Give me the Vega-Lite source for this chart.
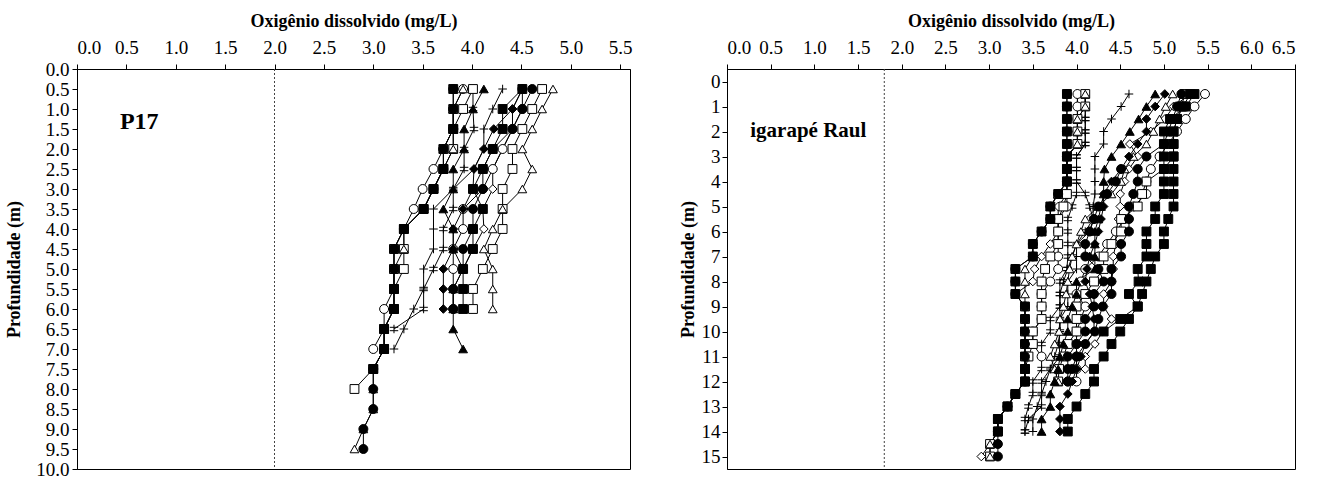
{
"$schema":"https://vega.github.io/schema/vega-lite/v6.json",
"padding":{"left":5,"top":11,"right":0,"bottom":0},
"spacing":45,
"config":{"font":"Liberation Serif, Times New Roman, serif","view":{"stroke":"black","strokeWidth":1},
"text":{"font":"Liberation Serif, Times New Roman, serif"},
"axis":{"grid":false,"labelOverlap":false,"labelBound":false,"domainColor":"black","tickColor":"black","labelColor":"black","titleColor":"black","labelFont":"Liberation Serif, Times New Roman, serif","titleFont":"Liberation Serif, Times New Roman, serif","labelFontSize":19,"titleFontSize":18,"titleFontWeight":"bold","tickSize":5}},
"datasets":{
"p17":[
{"s":"L2","m":"fs","d":0.5,"o":3.81},{"s":"L2","m":"fs","d":1,"o":3.81},{"s":"L2","m":"fs","d":2,"o":3.71},{"s":"L2","m":"fs","d":4.5,"o":3.21},{"s":"L2","m":"fs","d":5,"o":3.21},
{"s":"L9","m":"plus","d":0.5,"o":4.31},{"s":"L9","m":"plus","d":1,"o":4.21},{"s":"L9","m":"plus","d":1.5,"o":4.12},{"s":"L9","m":"plus","d":2,"o":4.12},{"s":"L9","m":"plus","d":2.5,"o":4.02},{"s":"L9","m":"plus","d":3,"o":3.81},{"s":"L9","m":"plus","d":3.5,"o":3.61},{"s":"L9","m":"plus","d":4,"o":3.61},{"s":"L9","m":"plus","d":4.5,"o":3.61},{"s":"L9","m":"plus","d":5,"o":3.51},{"s":"L9","m":"plus","d":5.5,"o":3.51},{"s":"L9","m":"plus","d":6,"o":3.41},{"s":"L9","m":"plus","d":6.5,"o":3.31},{"s":"L9","m":"plus","d":7,"o":3.21},
{"s":"L8","m":"dag","d":0.5,"o":4.01},{"s":"L8","m":"dag","d":1,"o":4.01},{"s":"L8","m":"dag","d":1.5,"o":4.02},{"s":"L8","m":"dag","d":2,"o":3.92},{"s":"L8","m":"dag","d":2.5,"o":3.92},{"s":"L8","m":"dag","d":3,"o":3.81},{"s":"L8","m":"dag","d":3.5,"o":3.81},{"s":"L8","m":"dag","d":4,"o":3.71},{"s":"L8","m":"dag","d":4.5,"o":3.71},{"s":"L8","m":"dag","d":5,"o":3.61},{"s":"L8","m":"dag","d":5.5,"o":3.51},{"s":"L8","m":"dag","d":6,"o":3.51},{"s":"L8","m":"dag","d":6.5,"o":3.21},
{"s":"L13","m":"od","d":0.5,"o":4.51},{"s":"L13","m":"od","d":1,"o":4.41},{"s":"L13","m":"od","d":1.5,"o":4.41},{"s":"L13","m":"od","d":2,"o":4.31},{"s":"L13","m":"od","d":2.5,"o":4.21},{"s":"L13","m":"od","d":3,"o":4.21},{"s":"L13","m":"od","d":3.5,"o":4.11},{"s":"L13","m":"od","d":4,"o":4.12},{"s":"L13","m":"od","d":4.5,"o":4.01},{"s":"L13","m":"od","d":5,"o":3.91},
{"s":"L14","m":"oc","d":0.5,"o":3.91},{"s":"L14","m":"oc","d":1,"o":3.81},{"s":"L14","m":"oc","d":1.5,"o":3.81},{"s":"L14","m":"oc","d":2,"o":3.71},{"s":"L14","m":"oc","d":2.5,"o":3.61},{"s":"L14","m":"oc","d":3,"o":3.5},{"s":"L14","m":"oc","d":3.5,"o":3.41},{"s":"L14","m":"oc","d":4,"o":3.31},{"s":"L14","m":"oc","d":4.5,"o":3.21},{"s":"L14","m":"oc","d":5,"o":3.21},{"s":"L14","m":"oc","d":5.5,"o":3.21},{"s":"L14","m":"oc","d":6,"o":3.11},{"s":"L14","m":"oc","d":6.5,"o":3.11},{"s":"L14","m":"oc","d":7,"o":3.0},
{"s":"L15","m":"oc","d":0.5,"o":4.51},{"s":"L15","m":"oc","d":1,"o":4.51},{"s":"L15","m":"oc","d":1.5,"o":4.41},{"s":"L15","m":"oc","d":2,"o":4.31},{"s":"L15","m":"oc","d":2.5,"o":4.21},{"s":"L15","m":"oc","d":3,"o":4.11},{"s":"L15","m":"oc","d":3.5,"o":3.91},{"s":"L15","m":"oc","d":4,"o":3.91},{"s":"L15","m":"oc","d":4.5,"o":3.81},{"s":"L15","m":"oc","d":5,"o":3.81},{"s":"L15","m":"oc","d":5.5,"o":3.81},{"s":"L15","m":"oc","d":6,"o":3.81},
{"s":"L3","m":"os","d":0.5,"o":4.01},{"s":"L3","m":"os","d":1,"o":3.91},{"s":"L3","m":"os","d":1.5,"o":3.81},{"s":"L3","m":"os","d":2,"o":3.81},{"s":"L3","m":"os","d":2.5,"o":3.71},{"s":"L3","m":"os","d":3,"o":3.61},{"s":"L3","m":"os","d":3.5,"o":3.51},{"s":"L3","m":"os","d":4,"o":3.31},{"s":"L3","m":"os","d":4.5,"o":3.31},{"s":"L3","m":"os","d":5,"o":3.31},{"s":"L3","m":"os","d":5.5,"o":3.21},{"s":"L3","m":"os","d":6,"o":3.21},{"s":"L3","m":"os","d":6.5,"o":3.11},{"s":"L3","m":"os","d":7,"o":3.11},{"s":"L3","m":"os","d":7.5,"o":3.0},{"s":"L3","m":"os","d":8,"o":2.81},
{"s":"L4","m":"os","d":0.5,"o":4.71},{"s":"L4","m":"os","d":1,"o":4.61},{"s":"L4","m":"os","d":1.5,"o":4.51},{"s":"L4","m":"os","d":2,"o":4.41},{"s":"L4","m":"os","d":2.5,"o":4.41},{"s":"L4","m":"os","d":3,"o":4.31},{"s":"L4","m":"os","d":3.5,"o":4.31},{"s":"L4","m":"os","d":4,"o":4.31},{"s":"L4","m":"os","d":4.5,"o":4.21},{"s":"L4","m":"os","d":5,"o":4.11},{"s":"L4","m":"os","d":5.5,"o":4.01},{"s":"L4","m":"os","d":6,"o":4.01},
{"s":"L6","m":"ot","d":0.5,"o":3.91},{"s":"L6","m":"ot","d":1,"o":3.81},{"s":"L6","m":"ot","d":1.5,"o":3.81},{"s":"L6","m":"ot","d":2,"o":3.81},{"s":"L6","m":"ot","d":2.5,"o":3.71},{"s":"L6","m":"ot","d":3,"o":3.61},{"s":"L6","m":"ot","d":3.5,"o":3.51},{"s":"L6","m":"ot","d":4,"o":3.31},{"s":"L6","m":"ot","d":4.5,"o":3.31},{"s":"L6","m":"ot","d":5,"o":3.21},{"s":"L6","m":"ot","d":5.5,"o":3.21},{"s":"L6","m":"ot","d":6,"o":3.21},{"s":"L6","m":"ot","d":6.5,"o":3.11},{"s":"L6","m":"ot","d":7,"o":3.11},{"s":"L6","m":"ot","d":7.5,"o":3.0},{"s":"L6","m":"ot","d":8,"o":3.0},{"s":"L6","m":"ot","d":8.5,"o":3.0},{"s":"L6","m":"ot","d":9,"o":2.9},{"s":"L6","m":"ot","d":9.5,"o":2.81},
{"s":"L5","m":"ot","d":0.5,"o":4.82},{"s":"L5","m":"ot","d":1,"o":4.71},{"s":"L5","m":"ot","d":1.5,"o":4.61},{"s":"L5","m":"ot","d":2,"o":4.51},{"s":"L5","m":"ot","d":2.5,"o":4.61},{"s":"L5","m":"ot","d":3,"o":4.51},{"s":"L5","m":"ot","d":3.5,"o":4.31},{"s":"L5","m":"ot","d":4,"o":4.21},{"s":"L5","m":"ot","d":4.5,"o":4.12},{"s":"L5","m":"ot","d":5,"o":4.21},{"s":"L5","m":"ot","d":5.5,"o":4.21},{"s":"L5","m":"ot","d":6,"o":4.21},
{"s":"L12","m":"fd","d":0.5,"o":4.51},{"s":"L12","m":"fd","d":1,"o":4.41},{"s":"L12","m":"fd","d":1.5,"o":4.22},{"s":"L12","m":"fd","d":2,"o":4.12},{"s":"L12","m":"fd","d":2.5,"o":4.02},{"s":"L12","m":"fd","d":3,"o":4.01},{"s":"L12","m":"fd","d":3.5,"o":3.91},{"s":"L12","m":"fd","d":4,"o":3.81},{"s":"L12","m":"fd","d":4.5,"o":3.81},{"s":"L12","m":"fd","d":5,"o":3.71},{"s":"L12","m":"fd","d":5.5,"o":3.71},{"s":"L12","m":"fd","d":6,"o":3.71},
{"s":"L7","m":"ft","d":0.5,"o":4.12},{"s":"L7","m":"ft","d":1,"o":4.01},{"s":"L7","m":"ft","d":1.5,"o":3.92},{"s":"L7","m":"ft","d":2,"o":3.92},{"s":"L7","m":"ft","d":2.5,"o":3.81},{"s":"L7","m":"ft","d":3,"o":3.81},{"s":"L7","m":"ft","d":3.5,"o":3.71},{"s":"L7","m":"ft","d":4,"o":3.81},{"s":"L7","m":"ft","d":4.5,"o":3.81},{"s":"L7","m":"ft","d":5,"o":3.91},{"s":"L7","m":"ft","d":5.5,"o":3.81},{"s":"L7","m":"ft","d":6,"o":3.81},{"s":"L7","m":"ft","d":6.5,"o":3.81},{"s":"L7","m":"ft","d":7,"o":3.91},
{"s":"L11","m":"fc","d":0.5,"o":4.61},{"s":"L11","m":"fc","d":1,"o":4.51},{"s":"L11","m":"fc","d":1.5,"o":4.41},{"s":"L11","m":"fc","d":2,"o":4.21},{"s":"L11","m":"fc","d":2.5,"o":4.11},{"s":"L11","m":"fc","d":3,"o":4.11},{"s":"L11","m":"fc","d":3.5,"o":4.01},{"s":"L11","m":"fc","d":4,"o":4.01},{"s":"L11","m":"fc","d":4.5,"o":3.91},{"s":"L11","m":"fc","d":5,"o":3.91},{"s":"L11","m":"fc","d":5.5,"o":3.81},{"s":"L11","m":"fc","d":6,"o":3.81},
{"s":"L10","m":"fs","d":0.5,"o":4.51},{"s":"L10","m":"fs","d":1,"o":4.31},{"s":"L10","m":"fs","d":1.5,"o":4.31},{"s":"L10","m":"fs","d":2,"o":4.21},{"s":"L10","m":"fs","d":2.5,"o":4.11},{"s":"L10","m":"fs","d":3,"o":4.01},{"s":"L10","m":"fs","d":3.5,"o":4.11},{"s":"L10","m":"fs","d":4,"o":4.01},{"s":"L10","m":"fs","d":4.5,"o":4.01},{"s":"L10","m":"fs","d":5,"o":3.91},{"s":"L10","m":"fs","d":5.5,"o":3.91},{"s":"L10","m":"fs","d":6,"o":3.91},
{"s":"L1","m":"fc","d":0.5,"o":3.81},{"s":"L1","m":"fc","d":1,"o":3.81},{"s":"L1","m":"fc","d":1.5,"o":3.81},{"s":"L1","m":"fc","d":2,"o":3.71},{"s":"L1","m":"fc","d":2.5,"o":3.71},{"s":"L1","m":"fc","d":3,"o":3.61},{"s":"L1","m":"fc","d":3.5,"o":3.51},{"s":"L1","m":"fc","d":4,"o":3.31},{"s":"L1","m":"fc","d":4.5,"o":3.21},{"s":"L1","m":"fc","d":5,"o":3.21},{"s":"L1","m":"fc","d":5.5,"o":3.21},{"s":"L1","m":"fc","d":6,"o":3.21},{"s":"L1","m":"fc","d":6.5,"o":3.11},{"s":"L1","m":"fc","d":7,"o":3.11},{"s":"L1","m":"fc","d":7.5,"o":3.0},{"s":"L1","m":"fc","d":8,"o":3.0},{"s":"L1","m":"fc","d":8.5,"o":3.0},{"s":"L1","m":"fc","d":9,"o":2.9},{"s":"L1","m":"fc","d":9.5,"o":2.9},
{"s":"L2","m":"fs","d":1.5,"o":3.81},{"s":"L2","m":"fs","d":2.5,"o":3.71},{"s":"L2","m":"fs","d":3,"o":3.61},{"s":"L2","m":"fs","d":3.5,"o":3.51},{"s":"L2","m":"fs","d":4,"o":3.31},{"s":"L2","m":"fs","d":5.5,"o":3.21},{"s":"L2","m":"fs","d":6,"o":3.21},{"s":"L2","m":"fs","d":6.5,"o":3.11},{"s":"L2","m":"fs","d":7,"o":3.11},{"s":"L2","m":"fs","d":7.5,"o":3.0}
],
"raul":[
{"s":"R2","m":"fs","d":0.5,"o":3.89},{"s":"R2","m":"fs","d":1,"o":3.89},{"s":"R2","m":"fs","d":1.5,"o":3.89},{"s":"R2","m":"fs","d":2,"o":3.89},{"s":"R2","m":"fs","d":2.5,"o":3.89},{"s":"R2","m":"fs","d":4.5,"o":3.79},{"s":"R2","m":"fs","d":7.5,"o":3.3},{"s":"R2","m":"fs","d":8,"o":3.3},{"s":"R2","m":"fs","d":8.5,"o":3.3},{"s":"R2","m":"fs","d":9,"o":3.41},{"s":"R2","m":"fs","d":9.5,"o":3.41},{"s":"R2","m":"fs","d":10,"o":3.41},{"s":"R2","m":"fs","d":10.5,"o":3.41},{"s":"R2","m":"fs","d":11,"o":3.41},
{"s":"R7","m":"dag","d":0.5,"o":4.1},{"s":"R7","m":"dag","d":1,"o":4.1},{"s":"R7","m":"dag","d":1.5,"o":4.1},{"s":"R7","m":"dag","d":2,"o":4.1},{"s":"R7","m":"dag","d":2.5,"o":4.1},{"s":"R7","m":"dag","d":3,"o":4.0},{"s":"R7","m":"dag","d":3.5,"o":4.0},{"s":"R7","m":"dag","d":4,"o":4.0},{"s":"R7","m":"dag","d":4.5,"o":4.0},{"s":"R7","m":"dag","d":5,"o":3.95},{"s":"R7","m":"dag","d":5.5,"o":3.9},{"s":"R7","m":"dag","d":6,"o":3.9},{"s":"R7","m":"dag","d":6.5,"o":3.9},{"s":"R7","m":"dag","d":7,"o":3.9},{"s":"R7","m":"dag","d":7.5,"o":3.89},{"s":"R7","m":"dag","d":8,"o":3.81},{"s":"R7","m":"dag","d":8.5,"o":3.81},{"s":"R7","m":"dag","d":9,"o":3.81},{"s":"R7","m":"dag","d":9.5,"o":3.7},{"s":"R7","m":"dag","d":10,"o":3.7},{"s":"R7","m":"dag","d":10.5,"o":3.6},{"s":"R7","m":"dag","d":11,"o":3.6},{"s":"R7","m":"dag","d":11.5,"o":3.6},{"s":"R7","m":"dag","d":12,"o":3.5},{"s":"R7","m":"dag","d":12.5,"o":3.5},{"s":"R7","m":"dag","d":13,"o":3.45},{"s":"R7","m":"dag","d":13.5,"o":3.41},{"s":"R7","m":"dag","d":14,"o":3.41},
{"s":"R9","m":"dag","d":0.5,"o":4.1},{"s":"R9","m":"dag","d":1,"o":4.1},{"s":"R9","m":"dag","d":1.5,"o":4.1},{"s":"R9","m":"dag","d":2,"o":4.1},{"s":"R9","m":"dag","d":2.5,"o":4.1},{"s":"R9","m":"dag","d":3,"o":4.0},{"s":"R9","m":"dag","d":3.5,"o":4.0},{"s":"R9","m":"dag","d":4,"o":4.0},{"s":"R9","m":"dag","d":4.5,"o":4.1},{"s":"R9","m":"dag","d":5,"o":4.15},{"s":"R9","m":"dag","d":5.5,"o":4.19},{"s":"R9","m":"dag","d":6,"o":4.1},{"s":"R9","m":"dag","d":6.5,"o":4.0},{"s":"R9","m":"dag","d":7,"o":3.95},{"s":"R9","m":"dag","d":7.5,"o":3.9},{"s":"R9","m":"dag","d":8,"o":3.85},{"s":"R9","m":"dag","d":8.5,"o":3.81},{"s":"R9","m":"dag","d":9,"o":3.81},{"s":"R9","m":"dag","d":9.5,"o":3.81},{"s":"R9","m":"dag","d":10,"o":3.81},{"s":"R9","m":"dag","d":10.5,"o":3.8},{"s":"R9","m":"dag","d":11,"o":3.81},{"s":"R9","m":"dag","d":11.5,"o":3.7},{"s":"R9","m":"dag","d":12,"o":3.6},{"s":"R9","m":"dag","d":12.5,"o":3.6},{"s":"R9","m":"dag","d":13,"o":3.6},{"s":"R9","m":"dag","d":13.5,"o":3.45},{"s":"R9","m":"dag","d":14,"o":3.41},
{"s":"R8","m":"plus","d":0.5,"o":4.6},{"s":"R8","m":"plus","d":1,"o":4.51},{"s":"R8","m":"plus","d":1.5,"o":4.4},{"s":"R8","m":"plus","d":2,"o":4.31},{"s":"R8","m":"plus","d":2.5,"o":4.31},{"s":"R8","m":"plus","d":3,"o":4.21},{"s":"R8","m":"plus","d":3.5,"o":4.21},{"s":"R8","m":"plus","d":4,"o":4.21},{"s":"R8","m":"plus","d":4.5,"o":4.21},{"s":"R8","m":"plus","d":5,"o":4.19},{"s":"R8","m":"plus","d":5.5,"o":4.19},{"s":"R8","m":"plus","d":6,"o":4.15},{"s":"R8","m":"plus","d":6.5,"o":4.0},{"s":"R8","m":"plus","d":7,"o":4.0},{"s":"R8","m":"plus","d":7.5,"o":4.0},{"s":"R8","m":"plus","d":8,"o":3.9},{"s":"R8","m":"plus","d":8.5,"o":3.9},{"s":"R8","m":"plus","d":9,"o":3.9},{"s":"R8","m":"plus","d":9.5,"o":3.81},{"s":"R8","m":"plus","d":10,"o":3.81},{"s":"R8","m":"plus","d":10.5,"o":3.79},{"s":"R8","m":"plus","d":11,"o":3.75},{"s":"R8","m":"plus","d":11.5,"o":3.7},{"s":"R8","m":"plus","d":12,"o":3.65},{"s":"R8","m":"plus","d":12.5,"o":3.6},{"s":"R8","m":"plus","d":13,"o":3.55},{"s":"R8","m":"plus","d":13.5,"o":3.5},{"s":"R8","m":"plus","d":14,"o":3.5},
{"s":"R6","m":"od","d":0.5,"o":4.01},{"s":"R6","m":"od","d":1,"o":4.01},{"s":"R6","m":"od","d":1.5,"o":4.01},{"s":"R6","m":"od","d":2,"o":4.01},{"s":"R6","m":"od","d":2.5,"o":4.01},{"s":"R6","m":"od","d":3,"o":3.89},{"s":"R6","m":"od","d":3.5,"o":3.89},{"s":"R6","m":"od","d":4,"o":3.89},{"s":"R6","m":"od","d":4.5,"o":3.89},{"s":"R6","m":"od","d":5,"o":3.79},{"s":"R6","m":"od","d":5.5,"o":3.79},{"s":"R6","m":"od","d":6,"o":3.79},{"s":"R6","m":"od","d":6.5,"o":3.7},{"s":"R6","m":"od","d":7,"o":3.6},{"s":"R6","m":"od","d":7.5,"o":3.52},{"s":"R6","m":"od","d":8,"o":3.5},{"s":"R6","m":"od","d":8.5,"o":3.3},{"s":"R6","m":"od","d":9,"o":3.41},{"s":"R6","m":"od","d":9.5,"o":3.41},{"s":"R6","m":"od","d":10,"o":3.41},{"s":"R6","m":"od","d":10.5,"o":3.41},{"s":"R6","m":"od","d":11,"o":3.41},{"s":"R6","m":"od","d":11.5,"o":3.41},{"s":"R6","m":"od","d":12,"o":3.41},{"s":"R6","m":"od","d":12.5,"o":3.3},{"s":"R6","m":"od","d":13,"o":3.21},{"s":"R6","m":"od","d":13.5,"o":3.1},{"s":"R6","m":"od","d":14,"o":3.1},{"s":"R6","m":"od","d":14.5,"o":3.01},{"s":"R6","m":"od","d":15,"o":2.91},
{"s":"R17","m":"od","d":0.5,"o":5.3},{"s":"R17","m":"od","d":1,"o":5.11},{"s":"R17","m":"od","d":1.5,"o":5.01},{"s":"R17","m":"od","d":2,"o":4.85},{"s":"R17","m":"od","d":2.5,"o":4.61},{"s":"R17","m":"od","d":3,"o":4.7},{"s":"R17","m":"od","d":3.5,"o":4.6},{"s":"R17","m":"od","d":4,"o":4.55},{"s":"R17","m":"od","d":4.5,"o":4.5},{"s":"R17","m":"od","d":5,"o":4.5},{"s":"R17","m":"od","d":5.5,"o":4.48},{"s":"R17","m":"od","d":6,"o":4.45},{"s":"R17","m":"od","d":6.5,"o":4.45},{"s":"R17","m":"od","d":7,"o":4.42},{"s":"R17","m":"od","d":7.5,"o":4.42},{"s":"R17","m":"od","d":8,"o":4.4},{"s":"R17","m":"od","d":8.5,"o":4.31},{"s":"R17","m":"od","d":9,"o":4.31},{"s":"R17","m":"od","d":9.5,"o":4.4},{"s":"R17","m":"od","d":10,"o":4.3},{"s":"R17","m":"od","d":10.5,"o":4.21},{"s":"R17","m":"od","d":11,"o":4.1},{"s":"R17","m":"od","d":11.5,"o":4.1},
{"s":"R3","m":"oc","d":0.5,"o":4.01},{"s":"R3","m":"oc","d":1,"o":4.01},{"s":"R3","m":"oc","d":1.5,"o":4.01},{"s":"R3","m":"oc","d":2,"o":4.01},{"s":"R3","m":"oc","d":2.5,"o":4.01},{"s":"R3","m":"oc","d":3,"o":3.89},{"s":"R3","m":"oc","d":3.5,"o":3.89},{"s":"R3","m":"oc","d":4,"o":3.89},{"s":"R3","m":"oc","d":4.5,"o":3.89},{"s":"R3","m":"oc","d":5,"o":3.89},{"s":"R3","m":"oc","d":5.5,"o":3.79},{"s":"R3","m":"oc","d":6,"o":3.79},{"s":"R3","m":"oc","d":6.5,"o":3.79},{"s":"R3","m":"oc","d":7,"o":3.79},{"s":"R3","m":"oc","d":7.5,"o":3.79},{"s":"R3","m":"oc","d":8,"o":3.7},{"s":"R3","m":"oc","d":8.5,"o":3.6},{"s":"R3","m":"oc","d":9,"o":3.6},{"s":"R3","m":"oc","d":9.5,"o":3.6},{"s":"R3","m":"oc","d":10,"o":3.5},{"s":"R3","m":"oc","d":10.5,"o":3.5},{"s":"R3","m":"oc","d":11,"o":3.6},
{"s":"R16","m":"oc","d":0.5,"o":5.47},{"s":"R16","m":"oc","d":1,"o":5.35},{"s":"R16","m":"oc","d":1.5,"o":5.25},{"s":"R16","m":"oc","d":2,"o":5.15},{"s":"R16","m":"oc","d":2.5,"o":5.05},{"s":"R16","m":"oc","d":3,"o":4.95},{"s":"R16","m":"oc","d":3.5,"o":4.85},{"s":"R16","m":"oc","d":4,"o":4.8},{"s":"R16","m":"oc","d":4.5,"o":4.8},{"s":"R16","m":"oc","d":5,"o":4.65},{"s":"R16","m":"oc","d":5.5,"o":4.55},{"s":"R16","m":"oc","d":6,"o":4.45},{"s":"R16","m":"oc","d":6.5,"o":4.35},{"s":"R16","m":"oc","d":7,"o":4.25},{"s":"R16","m":"oc","d":7.5,"o":4.1},{"s":"R16","m":"oc","d":8,"o":4.05},{"s":"R16","m":"oc","d":8.5,"o":4.0},{"s":"R16","m":"oc","d":9,"o":4.1},{"s":"R16","m":"oc","d":9.5,"o":4.05},{"s":"R16","m":"oc","d":10,"o":4.0},{"s":"R16","m":"oc","d":10.5,"o":4.0},{"s":"R16","m":"oc","d":11,"o":4.0},{"s":"R16","m":"oc","d":11.5,"o":4.0},{"s":"R16","m":"oc","d":12,"o":4.0},
{"s":"R4","m":"os","d":0.5,"o":4.1},{"s":"R4","m":"os","d":1,"o":4.1},{"s":"R4","m":"os","d":1.5,"o":4.01},{"s":"R4","m":"os","d":2,"o":4.01},{"s":"R4","m":"os","d":2.5,"o":4.01},{"s":"R4","m":"os","d":3,"o":3.89},{"s":"R4","m":"os","d":3.5,"o":3.89},{"s":"R4","m":"os","d":4,"o":3.89},{"s":"R4","m":"os","d":4.5,"o":3.89},{"s":"R4","m":"os","d":5,"o":3.85},{"s":"R4","m":"os","d":5.5,"o":3.79},{"s":"R4","m":"os","d":6,"o":3.79},{"s":"R4","m":"os","d":6.5,"o":3.79},{"s":"R4","m":"os","d":7,"o":3.7},{"s":"R4","m":"os","d":7.5,"o":3.64},{"s":"R4","m":"os","d":8,"o":3.6},{"s":"R4","m":"os","d":8.5,"o":3.6},{"s":"R4","m":"os","d":9,"o":3.6},{"s":"R4","m":"os","d":9.5,"o":3.6},{"s":"R4","m":"os","d":10,"o":3.5},{"s":"R4","m":"os","d":10.5,"o":3.5},{"s":"R4","m":"os","d":11,"o":3.45},{"s":"R4","m":"os","d":11.5,"o":3.41},{"s":"R4","m":"os","d":12,"o":3.41},{"s":"R4","m":"os","d":12.5,"o":3.3},{"s":"R4","m":"os","d":13,"o":3.21},{"s":"R4","m":"os","d":13.5,"o":3.1},{"s":"R4","m":"os","d":14,"o":3.1},{"s":"R4","m":"os","d":14.5,"o":3.01},{"s":"R4","m":"os","d":15,"o":3.01},
{"s":"R15","m":"os","d":0.5,"o":5.24},{"s":"R15","m":"os","d":1,"o":5.2},{"s":"R15","m":"os","d":1.5,"o":5.15},{"s":"R15","m":"os","d":2,"o":5.11},{"s":"R15","m":"os","d":2.5,"o":5.11},{"s":"R15","m":"os","d":3,"o":5.11},{"s":"R15","m":"os","d":3.5,"o":5.0},{"s":"R15","m":"os","d":4,"o":4.8},{"s":"R15","m":"os","d":4.5,"o":4.75},{"s":"R15","m":"os","d":5,"o":4.7},{"s":"R15","m":"os","d":5.5,"o":4.51},{"s":"R15","m":"os","d":6,"o":4.51},{"s":"R15","m":"os","d":6.5,"o":4.4},{"s":"R15","m":"os","d":7,"o":4.31},{"s":"R15","m":"os","d":7.5,"o":4.31},{"s":"R15","m":"os","d":8,"o":4.2},{"s":"R15","m":"os","d":8.5,"o":4.1},{"s":"R15","m":"os","d":9,"o":4.0},{"s":"R15","m":"os","d":9.5,"o":4.0},{"s":"R15","m":"os","d":10,"o":4.0},{"s":"R15","m":"os","d":10.5,"o":3.9},{"s":"R15","m":"os","d":11,"o":3.85},{"s":"R15","m":"os","d":11.5,"o":3.8},{"s":"R15","m":"os","d":12,"o":3.79},
{"s":"R5","m":"ot","d":0.5,"o":4.1},{"s":"R5","m":"ot","d":1,"o":4.1},{"s":"R5","m":"ot","d":1.5,"o":4.01},{"s":"R5","m":"ot","d":2,"o":4.01},{"s":"R5","m":"ot","d":2.5,"o":4.01},{"s":"R5","m":"ot","d":3,"o":3.89},{"s":"R5","m":"ot","d":3.5,"o":3.89},{"s":"R5","m":"ot","d":4,"o":3.89},{"s":"R5","m":"ot","d":4.5,"o":3.79},{"s":"R5","m":"ot","d":5,"o":3.7},{"s":"R5","m":"ot","d":5.5,"o":3.7},{"s":"R5","m":"ot","d":6,"o":3.6},{"s":"R5","m":"ot","d":6.5,"o":3.5},{"s":"R5","m":"ot","d":7,"o":3.5},{"s":"R5","m":"ot","d":7.5,"o":3.41},{"s":"R5","m":"ot","d":8,"o":3.41},{"s":"R5","m":"ot","d":8.5,"o":3.41},{"s":"R5","m":"ot","d":9,"o":3.41},{"s":"R5","m":"ot","d":9.5,"o":3.41},{"s":"R5","m":"ot","d":10,"o":3.41},{"s":"R5","m":"ot","d":10.5,"o":3.41},{"s":"R5","m":"ot","d":11,"o":3.41},{"s":"R5","m":"ot","d":11.5,"o":3.41},{"s":"R5","m":"ot","d":12,"o":3.41},{"s":"R5","m":"ot","d":12.5,"o":3.3},{"s":"R5","m":"ot","d":13,"o":3.21},{"s":"R5","m":"ot","d":13.5,"o":3.1},{"s":"R5","m":"ot","d":14,"o":3.1},{"s":"R5","m":"ot","d":14.5,"o":3.01},{"s":"R5","m":"ot","d":15,"o":3.01},
{"s":"R12","m":"ot","d":0.5,"o":5.1},{"s":"R12","m":"ot","d":1,"o":5.02},{"s":"R12","m":"ot","d":1.5,"o":4.95},{"s":"R12","m":"ot","d":2,"o":4.88},{"s":"R12","m":"ot","d":2.5,"o":4.8},{"s":"R12","m":"ot","d":3,"o":4.65},{"s":"R12","m":"ot","d":3.5,"o":4.55},{"s":"R12","m":"ot","d":4,"o":4.51},{"s":"R12","m":"ot","d":4.5,"o":4.4},{"s":"R12","m":"ot","d":5,"o":4.25},{"s":"R12","m":"ot","d":5.5,"o":4.1},{"s":"R12","m":"ot","d":6,"o":4.05},{"s":"R12","m":"ot","d":6.5,"o":4.0},{"s":"R12","m":"ot","d":7,"o":3.95},{"s":"R12","m":"ot","d":7.5,"o":3.92},{"s":"R12","m":"ot","d":8,"o":3.9},{"s":"R12","m":"ot","d":8.5,"o":3.88},{"s":"R12","m":"ot","d":9,"o":3.85},{"s":"R12","m":"ot","d":9.5,"o":3.81},{"s":"R12","m":"ot","d":10,"o":3.8},{"s":"R12","m":"ot","d":10.5,"o":3.75},{"s":"R12","m":"ot","d":11,"o":3.7},{"s":"R12","m":"ot","d":11.5,"o":3.75},{"s":"R12","m":"ot","d":12,"o":3.79},
{"s":"R11","m":"fd","d":0.5,"o":5.01},{"s":"R11","m":"fd","d":1,"o":4.9},{"s":"R11","m":"fd","d":1.5,"o":4.8},{"s":"R11","m":"fd","d":2,"o":4.8},{"s":"R11","m":"fd","d":2.5,"o":4.7},{"s":"R11","m":"fd","d":3,"o":4.6},{"s":"R11","m":"fd","d":3.5,"o":4.51},{"s":"R11","m":"fd","d":4,"o":4.4},{"s":"R11","m":"fd","d":4.5,"o":4.31},{"s":"R11","m":"fd","d":5,"o":4.31},{"s":"R11","m":"fd","d":5.5,"o":4.28},{"s":"R11","m":"fd","d":6,"o":4.25},{"s":"R11","m":"fd","d":6.5,"o":4.21},{"s":"R11","m":"fd","d":7,"o":4.15},{"s":"R11","m":"fd","d":7.5,"o":4.12},{"s":"R11","m":"fd","d":8,"o":4.1},{"s":"R11","m":"fd","d":8.5,"o":4.15},{"s":"R11","m":"fd","d":9,"o":4.18},{"s":"R11","m":"fd","d":9.5,"o":4.2},{"s":"R11","m":"fd","d":10,"o":4.2},{"s":"R11","m":"fd","d":10.5,"o":4.1},{"s":"R11","m":"fd","d":11,"o":4.05},{"s":"R11","m":"fd","d":11.5,"o":4.0},{"s":"R11","m":"fd","d":12,"o":3.95},{"s":"R11","m":"fd","d":12.5,"o":3.9},{"s":"R11","m":"fd","d":13,"o":3.81},{"s":"R11","m":"fd","d":13.5,"o":3.81},{"s":"R11","m":"fd","d":14,"o":3.81},
{"s":"R10","m":"ft","d":0.5,"o":4.9},{"s":"R10","m":"ft","d":1,"o":4.8},{"s":"R10","m":"ft","d":1.5,"o":4.71},{"s":"R10","m":"ft","d":2,"o":4.61},{"s":"R10","m":"ft","d":2.5,"o":4.51},{"s":"R10","m":"ft","d":3,"o":4.4},{"s":"R10","m":"ft","d":3.5,"o":4.32},{"s":"R10","m":"ft","d":4,"o":4.31},{"s":"R10","m":"ft","d":4.5,"o":4.31},{"s":"R10","m":"ft","d":5,"o":4.28},{"s":"R10","m":"ft","d":5.5,"o":4.25},{"s":"R10","m":"ft","d":6,"o":4.21},{"s":"R10","m":"ft","d":6.5,"o":4.21},{"s":"R10","m":"ft","d":7,"o":4.21},{"s":"R10","m":"ft","d":7.5,"o":4.21},{"s":"R10","m":"ft","d":8,"o":4.0},{"s":"R10","m":"ft","d":8.5,"o":4.0},{"s":"R10","m":"ft","d":9,"o":3.95},{"s":"R10","m":"ft","d":9.5,"o":3.9},{"s":"R10","m":"ft","d":10,"o":3.9},{"s":"R10","m":"ft","d":10.5,"o":3.85},{"s":"R10","m":"ft","d":11,"o":3.81},{"s":"R10","m":"ft","d":11.5,"o":3.79},{"s":"R10","m":"ft","d":12,"o":3.75},{"s":"R10","m":"ft","d":12.5,"o":3.7},{"s":"R10","m":"ft","d":13,"o":3.7},{"s":"R10","m":"ft","d":13.5,"o":3.6},{"s":"R10","m":"ft","d":14,"o":3.6},
{"s":"R14","m":"fc","d":3.5,"o":4.51},{"s":"R14","m":"fc","d":4,"o":4.45},{"s":"R14","m":"fc","d":4.5,"o":4.35},{"s":"R14","m":"fc","d":5,"o":4.25},{"s":"R14","m":"fc","d":5.5,"o":4.2},{"s":"R14","m":"fc","d":6,"o":4.15},{"s":"R14","m":"fc","d":6.5,"o":4.1},{"s":"R14","m":"fc","d":7,"o":4.1},{"s":"R14","m":"fc","d":7.5,"o":4.25},{"s":"R14","m":"fc","d":8,"o":4.31},{"s":"R14","m":"fc","d":8.5,"o":4.2},{"s":"R14","m":"fc","d":9,"o":4.2},{"s":"R14","m":"fc","d":9.5,"o":4.1},{"s":"R14","m":"fc","d":10,"o":4.1},{"s":"R14","m":"fc","d":10.5,"o":4.0},{"s":"R14","m":"fc","d":11,"o":3.9},{"s":"R14","m":"fc","d":11.5,"o":3.9},{"s":"R14","m":"fc","d":12,"o":3.9},
{"s":"R13","m":"fc","d":0.5,"o":5.2},{"s":"R13","m":"fc","d":1,"o":5.15},{"s":"R13","m":"fc","d":1.5,"o":5.1},{"s":"R13","m":"fc","d":2,"o":5.05},{"s":"R13","m":"fc","d":2.5,"o":5.0},{"s":"R13","m":"fc","d":3,"o":4.8},{"s":"R13","m":"fc","d":3.5,"o":4.7},{"s":"R13","m":"fc","d":4,"o":4.7},{"s":"R13","m":"fc","d":4.5,"o":4.65},{"s":"R13","m":"fc","d":5,"o":4.6},{"s":"R13","m":"fc","d":5.5,"o":4.6},{"s":"R13","m":"fc","d":6,"o":4.6},{"s":"R13","m":"fc","d":6.5,"o":4.51},{"s":"R13","m":"fc","d":7,"o":4.51},{"s":"R13","m":"fc","d":7.5,"o":4.4},{"s":"R13","m":"fc","d":8,"o":4.4},{"s":"R13","m":"fc","d":8.5,"o":4.4},{"s":"R13","m":"fc","d":9,"o":4.3},{"s":"R13","m":"fc","d":9.5,"o":4.25},{"s":"R13","m":"fc","d":10,"o":4.21},{"s":"R13","m":"fc","d":10.5,"o":4.1},{"s":"R13","m":"fc","d":11,"o":4.0},{"s":"R13","m":"fc","d":11.5,"o":3.95},{"s":"R13","m":"fc","d":12,"o":3.9},
{"s":"R1","m":"fc","d":0.5,"o":3.89},{"s":"R1","m":"fc","d":1,"o":3.89},{"s":"R1","m":"fc","d":1.5,"o":3.89},{"s":"R1","m":"fc","d":2,"o":3.89},{"s":"R1","m":"fc","d":2.5,"o":3.89},{"s":"R1","m":"fc","d":3,"o":3.89},{"s":"R1","m":"fc","d":3.5,"o":3.89},{"s":"R1","m":"fc","d":4,"o":3.89},{"s":"R1","m":"fc","d":4.5,"o":3.79},{"s":"R1","m":"fc","d":5,"o":3.7},{"s":"R1","m":"fc","d":5.5,"o":3.7},{"s":"R1","m":"fc","d":6,"o":3.6},{"s":"R1","m":"fc","d":6.5,"o":3.5},{"s":"R1","m":"fc","d":7,"o":3.5},{"s":"R1","m":"fc","d":7.5,"o":3.3},{"s":"R1","m":"fc","d":8,"o":3.3},{"s":"R1","m":"fc","d":8.5,"o":3.3},{"s":"R1","m":"fc","d":9,"o":3.41},{"s":"R1","m":"fc","d":9.5,"o":3.41},{"s":"R1","m":"fc","d":10,"o":3.41},{"s":"R1","m":"fc","d":10.5,"o":3.41},{"s":"R1","m":"fc","d":11,"o":3.41},{"s":"R1","m":"fc","d":11.5,"o":3.41},{"s":"R1","m":"fc","d":12,"o":3.41},{"s":"R1","m":"fc","d":12.5,"o":3.3},{"s":"R1","m":"fc","d":13,"o":3.21},{"s":"R1","m":"fc","d":13.5,"o":3.1},{"s":"R1","m":"fc","d":14,"o":3.1},{"s":"R1","m":"fc","d":14.5,"o":3.1},{"s":"R1","m":"fc","d":15,"o":3.1},
{"s":"R18","m":"fs","d":0.5,"o":5.35},{"s":"R18","m":"fs","d":1,"o":5.25},{"s":"R18","m":"fs","d":1.5,"o":5.07},{"s":"R18","m":"fs","d":2,"o":5.0},{"s":"R18","m":"fs","d":2.5,"o":5.0},{"s":"R18","m":"fs","d":3,"o":5.0},{"s":"R18","m":"fs","d":3.5,"o":5.0},{"s":"R18","m":"fs","d":4,"o":5.0},{"s":"R18","m":"fs","d":4.5,"o":5.0},{"s":"R18","m":"fs","d":5,"o":4.9},{"s":"R18","m":"fs","d":5.5,"o":4.9},{"s":"R18","m":"fs","d":6,"o":4.8},{"s":"R18","m":"fs","d":6.5,"o":4.8},{"s":"R18","m":"fs","d":7,"o":4.8},{"s":"R18","m":"fs","d":7.5,"o":4.7},{"s":"R18","m":"fs","d":8,"o":4.71},{"s":"R18","m":"fs","d":8.5,"o":4.6},{"s":"R18","m":"fs","d":9,"o":4.7},{"s":"R18","m":"fs","d":9.5,"o":4.5},{"s":"R18","m":"fs","d":10,"o":4.31},
{"s":"R19","m":"fs","d":0.5,"o":5.3},{"s":"R19","m":"fs","d":1,"o":5.22},{"s":"R19","m":"fs","d":1.5,"o":5.15},{"s":"R19","m":"fs","d":2,"o":5.11},{"s":"R19","m":"fs","d":2.5,"o":5.11},{"s":"R19","m":"fs","d":3,"o":5.11},{"s":"R19","m":"fs","d":3.5,"o":5.11},{"s":"R19","m":"fs","d":4,"o":5.11},{"s":"R19","m":"fs","d":4.5,"o":5.11},{"s":"R19","m":"fs","d":5,"o":5.11},{"s":"R19","m":"fs","d":5.5,"o":5.05},{"s":"R19","m":"fs","d":6,"o":5.0},{"s":"R19","m":"fs","d":6.5,"o":5.0},{"s":"R19","m":"fs","d":7,"o":4.9},{"s":"R19","m":"fs","d":7.5,"o":4.85},{"s":"R19","m":"fs","d":8,"o":4.8},{"s":"R19","m":"fs","d":8.5,"o":4.75},{"s":"R19","m":"fs","d":9,"o":4.7},{"s":"R19","m":"fs","d":9.5,"o":4.6},{"s":"R19","m":"fs","d":10,"o":4.5},{"s":"R19","m":"fs","d":10.5,"o":4.4},{"s":"R19","m":"fs","d":11,"o":4.31},{"s":"R19","m":"fs","d":11.5,"o":4.2},{"s":"R19","m":"fs","d":12,"o":4.2},{"s":"R19","m":"fs","d":12.5,"o":4.1},{"s":"R19","m":"fs","d":13,"o":4.0},{"s":"R19","m":"fs","d":13.5,"o":3.9},{"s":"R19","m":"fs","d":14,"o":3.9},
{"s":"R2","m":"fs","d":3,"o":3.89},{"s":"R2","m":"fs","d":3.5,"o":3.89},{"s":"R2","m":"fs","d":4,"o":3.89},{"s":"R2","m":"fs","d":5,"o":3.7},{"s":"R2","m":"fs","d":5.5,"o":3.7},{"s":"R2","m":"fs","d":6,"o":3.6},{"s":"R2","m":"fs","d":6.5,"o":3.5},{"s":"R2","m":"fs","d":7,"o":3.5},{"s":"R2","m":"fs","d":11.5,"o":3.41},{"s":"R2","m":"fs","d":12,"o":3.41},{"s":"R2","m":"fs","d":12.5,"o":3.3},{"s":"R2","m":"fs","d":13,"o":3.21},{"s":"R2","m":"fs","d":13.5,"o":3.1},{"s":"R2","m":"fs","d":14,"o":3.1}
],
"lab1":[{"t":"P17","o":0.63,"d":1.33}],
"lab2":[{"t":"igarapé Raul","o":0.93,"d":1.98}],
"ref1":[{"o":2.0,"d":0,"d2":10}],
"ref2":[{"o":1.8,"d":-0.5,"d2":15.5}]
},
"hconcat":[
{"width":553,"height":400,
"encoding":{
"x":{"field":"o","type":"quantitative","scale":{"domain":[0,5.6],"nice":false,"zero":false},"axis":{"orient":"top","values":[0,0.5,1,1.5,2,2.5,3,3.5,4,4.5,5,5.5],"format":".1f","title":"Oxigênio dissolvido (mg/L)","labelPadding":7,"titlePadding":8}},
"y":{"field":"d","type":"quantitative","scale":{"domain":[0,10],"reverse":true,"nice":false,"zero":false},"axis":{"values":[0,0.5,1,1.5,2,2.5,3,3.5,4,4.5,5,5.5,6,6.5,7,7.5,8,8.5,9,9.5,10],"format":".1f","title":"Profundidade (m)","labelPadding":3,"titlePadding":12}}},
"layer":[
{"data":{"name":"p17"},"mark":{"type":"line","color":"black","strokeWidth":1},"encoding":{"detail":{"field":"s"},"order":{"field":"d","type":"quantitative"}}},
{"data":{"name":"ref1"},"mark":{"type":"rule","stroke":"#444","strokeDash":[2,2],"strokeWidth":1},"encoding":{"y2":{"field":"d2"}}},
{"data":{"name":"p17"},"mark":{"type":"point","filled":true,"opacity":1,"stroke":"black","strokeWidth":1},"encoding":{
"shape":{"field":"m","type":"nominal","legend":null,"scale":{"domain":["fc","oc","fs","os","ft","ot","fd","od","plus","dag"],"range":["circle","circle","square","square","triangle-up","triangle-up","diamond","diamond","M-1,0L1,0M0,-1L0,1","M0,-1L0,1M-1,-0.4L1,-0.4M-1,0.4L1,0.4"]}},
"fill":{"field":"m","type":"nominal","legend":null,"scale":{"domain":["fc","oc","fs","os","ft","ot","fd","od","plus","dag"],"range":["black","white","black","white","black","white","black","white","none","none"]}},
"size":{"field":"m","type":"nominal","legend":null,"scale":{"domain":["fc","oc","fs","os","ft","ot","fd","od","plus","dag"],"range":[81,72,64,64,81,81,49,64,81,81]}}}},
{"data":{"name":"lab1"},"mark":{"type":"text","font":"Liberation Serif, Times New Roman, serif","fontSize":24,"fontWeight":"bold","color":"black","align":"center","baseline":"middle"},"encoding":{"text":{"field":"t"}}}
]},
{"width":568,"height":400,
"encoding":{
"x":{"field":"o","type":"quantitative","scale":{"domain":[0,6.5],"nice":false,"zero":false},"axis":{"orient":"top","values":[0,0.5,1,1.5,2,2.5,3,3.5,4,4.5,5,5.5,6,6.5],"format":".1f","title":"Oxigênio dissolvido (mg/L)","labelPadding":7,"titlePadding":8}},
"y":{"field":"d","type":"quantitative","scale":{"domain":[-0.5,15.5],"reverse":true,"nice":false,"zero":false},"axis":{"values":[0,1,2,3,4,5,6,7,8,9,10,11,12,13,14,15],"format":"d","title":"Profundidade (m)","labelPadding":2,"titlePadding":4}}},
"layer":[
{"data":{"name":"raul"},"mark":{"type":"line","color":"black","strokeWidth":1},"encoding":{"detail":{"field":"s"},"order":{"field":"d","type":"quantitative"}}},
{"data":{"name":"ref2"},"mark":{"type":"rule","stroke":"#444","strokeDash":[2,2],"strokeWidth":1},"encoding":{"y2":{"field":"d2"}}},
{"data":{"name":"raul"},"mark":{"type":"point","filled":true,"opacity":1,"stroke":"black","strokeWidth":1},"encoding":{
"shape":{"field":"m","type":"nominal","legend":null,"scale":{"domain":["fc","oc","fs","os","ft","ot","fd","od","plus","dag"],"range":["circle","circle","square","square","triangle-up","triangle-up","diamond","diamond","M-1,0L1,0M0,-1L0,1","M0,-1L0,1M-1,-0.4L1,-0.4M-1,0.4L1,0.4"]}},
"fill":{"field":"m","type":"nominal","legend":null,"scale":{"domain":["fc","oc","fs","os","ft","ot","fd","od","plus","dag"],"range":["black","white","black","white","black","white","black","white","none","none"]}},
"size":{"field":"m","type":"nominal","legend":null,"scale":{"domain":["fc","oc","fs","os","ft","ot","fd","od","plus","dag"],"range":[81,72,64,64,81,81,49,64,81,81]}}}},
{"data":{"name":"lab2"},"mark":{"type":"text","font":"Liberation Serif, Times New Roman, serif","fontSize":21,"fontWeight":"bold","color":"black","align":"center","baseline":"middle"},"encoding":{"text":{"field":"t"}}}
]}
]
}
